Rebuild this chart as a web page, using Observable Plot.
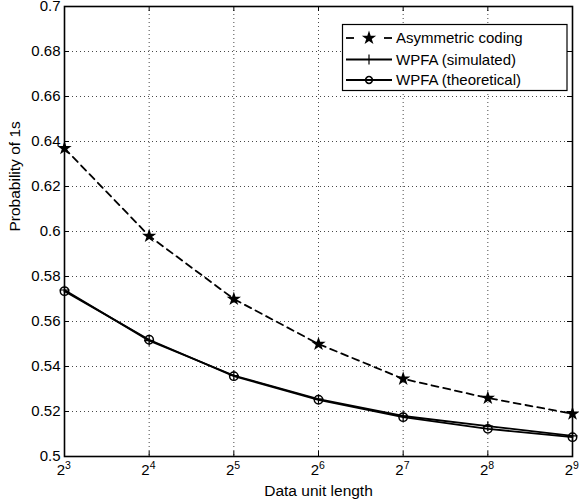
<!DOCTYPE html>
<html>
<head>
<meta charset="utf-8">
<script src="https://cdn.jsdelivr.net/npm/d3@7"></script>
<script src="https://cdn.jsdelivr.net/npm/@observablehq/plot@0.6"></script>
<style>
  html, body { margin: 0; padding: 0; background: #fff; }
  #chart svg { display: block; }
</style>
</head>
<body>
<div id="chart"></div>
<script>
// ---- data ----
const exponents = [3, 4, 5, 6, 7, 8, 9];
const asymmetric = [0.637, 0.598, 0.570, 0.550, 0.5345, 0.526, 0.519];
const wpfaSimulated = [0.574, 0.5515, 0.536, 0.5255, 0.518, 0.5135, 0.5092];
const wpfaTheoretical = [0.5735, 0.5519, 0.5357, 0.5252, 0.5175, 0.5123, 0.5086];
const yTicks = [0.5, 0.52, 0.54, 0.56, 0.58, 0.6, 0.62, 0.64, 0.66, 0.68, 0.7];
const seriesNames = ["Asymmetric coding", "WPFA (simulated)", "WPFA (theoretical)"];
const xLabel = "Data unit length";
const yLabel = "Probability of 1s";

const xTicks = exponents.map(e => 2 ** e);
const toRows = (vals, name) => vals.map((v, i) => ({x: 2 ** exponents[i], y: v, series: name}));
const asymRows = toRows(asymmetric, seriesNames[0]);
const simRows = toRows(wpfaSimulated, seriesNames[1]);
const theoRows = toRows(wpfaTheoretical, seriesNames[2]);

const font = "'Liberation Sans', Arial, Helvetica, sans-serif";

const plusSymbol = {
  draw(context, size) {
    const r = Math.sqrt(size / Math.PI);
    context.moveTo(-r, 0); context.lineTo(r, 0);
    context.moveTo(0, -r); context.lineTo(0, r);
  }
};

const W = 579, H = 503, mL = 64, mR = 7, mT = 6, mB = 47;
const innerH = H - mT - mB, innerW = W - mL - mR;

const grid = {stroke: "#333", strokeOpacity: 1, strokeWidth: 0.9, strokeDasharray: "1,3"};

const chart = Plot.plot({
  width: W, height: H,
  marginLeft: mL, marginRight: mR, marginTop: mT, marginBottom: mB,
  style: {fontFamily: font, fontSize: "15px", background: "#fff", color: "#000"},
  x: {type: "log", base: 2, domain: [8, 512]},
  y: {domain: [0.5, 0.7]},
  marks: [
    Plot.ruleX(xTicks, {...grid}),
    Plot.ruleY(yTicks, {...grid}),
    // inward ticks
    Plot.ruleX(xTicks, {stroke: "#000", insetTop: innerH - 5}),
    Plot.ruleX(xTicks, {stroke: "#000", insetBottom: innerH - 5}),
    Plot.ruleY(yTicks, {stroke: "#000", insetRight: innerW - 5}),
    Plot.ruleY(yTicks, {stroke: "#000", insetLeft: innerW - 5}),
    Plot.frame({stroke: "#000", strokeWidth: 1.6}),
    Plot.axisY(yTicks, {tickSize: 0, tickPadding: 4, fontSize: 15, label: null,
      tickFormat: d => String(+d.toFixed(2))}),
    Plot.axisX(xTicks, {tickSize: 0, tickFormat: () => "", label: null}),
    // x tick labels 2^n
    Plot.text(exponents, {x: d => 2 ** d, text: () => "2", frameAnchor: "bottom",
      lineAnchor: "bottom", textAnchor: "end", dy: 18, dx: 0.5, fontSize: 15}),
    Plot.text(exponents, {x: d => 2 ** d, text: d => String(d), frameAnchor: "bottom",
      lineAnchor: "bottom", textAnchor: "start", dy: 12, dx: 0.5, fontSize: 10.5}),
    // axis labels
    Plot.text([xLabel], {frameAnchor: "bottom", lineAnchor: "bottom", dy: 39, fontSize: 15.5}),
    Plot.text([yLabel], {frameAnchor: "left", rotate: -90, lineAnchor: "middle", dx: -49, fontSize: 15.5}),
    // series
    Plot.line(asymRows, {x: "x", y: "y", stroke: "#000", strokeWidth: 1.8, strokeDasharray: "7,5"}),
    Plot.line(simRows, {x: "x", y: "y", stroke: "#000", strokeWidth: 1.8}),
    Plot.line(theoRows, {x: "x", y: "y", stroke: "#000", strokeWidth: 1.8}),
    Plot.dot(asymRows, {x: "x", y: "y", symbol: "star", r: 4.5, fill: "#000", stroke: "none"}),
    Plot.dot(simRows, {x: "x", y: "y", symbol: plusSymbol, r: 5, fill: "none", stroke: "#000", strokeWidth: 1.2}),
    Plot.dot(theoRows, {x: "x", y: "y", symbol: "circle", r: 4.2, fill: "none", stroke: "#000", strokeWidth: 1.5})
  ]
});

document.getElementById("chart").appendChild(chart);

// ---- legend (inside the plot, top-right) ----
const svg = d3.select(chart);
const lg = svg.append("g").attr("font-family", font).attr("font-size", 15).attr("text-anchor", "start");
const box = {x: 342.5, y: 24.5, w: 224.5, h: 66};
lg.append("rect").attr("x", box.x).attr("y", box.y).attr("width", box.w).attr("height", box.h)
  .attr("fill", "#fff").attr("stroke", "#000").attr("stroke-width", 1.2);
const rowY = [38, 59.5, 80];
const styles = [
  {dash: true, sym: d3.symbolStar, size: Math.PI * 4.5 * 4.5, fill: "#000", stroke: "none", sw: 0},
  {dash: false, sym: plusSymbol, size: Math.PI * 25, fill: "none", stroke: "#000", sw: 1.2},
  {dash: false, sym: d3.symbolCircle, size: Math.PI * 3.4 * 3.4, fill: "none", stroke: "#000", sw: 1.5}
];
seriesNames.forEach((name, i) => {
  const s = styles[i], y = rowY[i];
  if (s.dash) {
    lg.append("line").attr("x1", 346).attr("x2", 354).attr("y1", y).attr("y2", y)
      .attr("stroke", "#000").attr("stroke-width", 1.8);
    lg.append("line").attr("x1", 384).attr("x2", 392).attr("y1", y).attr("y2", y)
      .attr("stroke", "#000").attr("stroke-width", 1.8);
  } else {
    lg.append("line").attr("x1", 346).attr("x2", 392).attr("y1", y).attr("y2", y)
      .attr("stroke", "#000").attr("stroke-width", 1.8);
  }
  lg.append("path").attr("d", d3.symbol(s.sym, s.size)())
    .attr("transform", `translate(369,${y})`)
    .attr("fill", s.fill).attr("stroke", s.stroke).attr("stroke-width", s.sw);
  lg.append("text").attr("x", 396).attr("y", y).attr("dy", "0.35em").text(name);
});
</script>
</body>
</html>
